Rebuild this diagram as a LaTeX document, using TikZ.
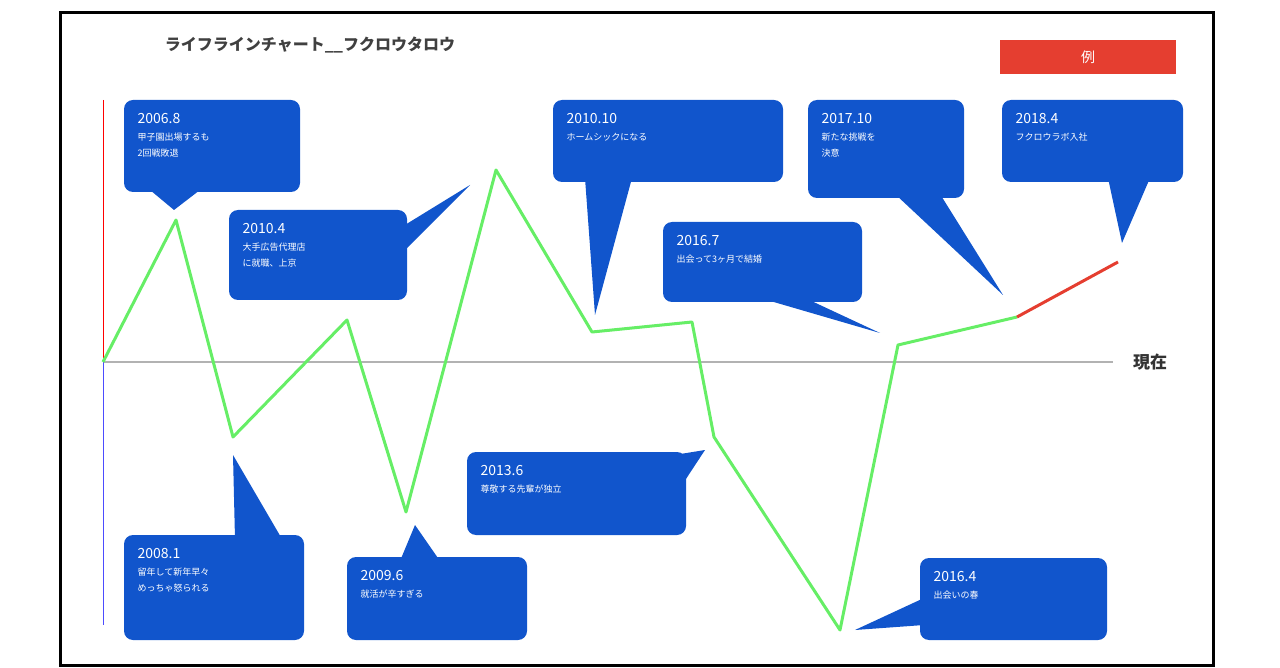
\documentclass[tikz,border=0pt]{standalone}
\usepackage{fontspec}
\setmainfont{Noto Sans CJK JP}
\begin{document}
\begin{tikzpicture}[x=1pt,y=-1pt,
  cbox/.style={fill=cb,rounded corners=9pt,text=white,align=left,anchor=north west,inner sep=0pt,font=\fontsize{14}{18}\selectfont},
  tail/.style={fill=cb}]
\definecolor{cb}{HTML}{1155CC}
\definecolor{lg}{HTML}{66EE66}
\definecolor{rd}{HTML}{E53E30}
\useasboundingbox (0,0) rectangle (1280,668);
\draw[line width=3pt] (60,13) rectangle (1213,665);
\node[font=\fontsize{16}{18}\selectfont\bfseries,text=black!75] (title) at (310,45) {ライフラインチャート\_\_フクロウタロウ};
\node[fill=rd,minimum width=176pt,minimum height=34pt,text=white,font=\fontsize{14}{16}\selectfont] (legend) at (1088,57) {例};
\draw[gray!60,line width=1.2pt] (103,362) coordinate (o) -- (1113,362) coordinate (ax);
\node[font=\fontsize{17}{18}\selectfont\bfseries,text=black!80] (now) at (1150,362) {現在};
\draw[red,line width=1pt] (103,100) coordinate (yt) -- (o);
\draw[blue!70,line width=1pt] (o) -- (103,625) coordinate (yb);
% callouts
\newcommand{\callout}[6]{% name, x1,y1,x2,y2,text
  \path[cbox] (#2,#3) rectangle (#4,#5);
  \node[text=white,align=left,anchor=north west,font=\fontsize{14}{19}\selectfont] (#1) at (#2+10,#3+10) {#6};}
\callout{c1}{124}{100}{300}{192}{2006.8\\[-2pt]{\small 甲子園出場するも}\\[-3pt]{\small 2回戦敗退}}
\fill[cb] (150,190) -- (200,190) -- (174,210) -- cycle;
\callout{c2}{229}{210}{407}{300}{2010.4\\[-2pt]{\small 大手広告代理店}\\[-3pt]{\small に就職、上京}}
\fill[cb] (400,228) -- (400,255) -- (470,185) -- cycle;
\callout{c3}{553}{100}{783}{182}{2010.10\\[-2pt]{\small ホームシックになる}}
\fill[cb] (585,178) -- (632,178) -- (595,315) -- cycle;
\callout{c4}{808}{100}{964}{198}{2017.10\\[-2pt]{\small 新たな挑戦を}\\[-3pt]{\small 決意}}
\fill[cb] (895,194) -- (940,194) -- (1003,295) -- cycle;
\callout{c5}{1002}{100}{1183}{182}{2018.4\\[-2pt]{\small フクロウラボ入社}}
\fill[cb] (1108,178) -- (1150,178) -- (1122,243) -- cycle;
\callout{c6}{663}{222}{862}{302}{2016.7\\[-2pt]{\small 出会って3ヶ月で結婚}}
\fill[cb] (760,298) -- (805,298) -- (880,333) -- cycle;
\callout{c7}{124}{535}{304}{640}{2008.1\\[-2pt]{\small 留年して新年早々}\\[-3pt]{\small めっちゃ怒られる}}
\fill[cb] (235,539) -- (282,539) -- (233,455) -- cycle;
\callout{c8}{347}{557}{527}{640}{2009.6\\[-2pt]{\small 就活が辛すぎる}}
\fill[cb] (400,561) -- (440,561) -- (415,525) -- cycle;
\callout{c9}{467}{452}{686}{535}{2013.6\\[-2pt]{\small 尊敬する先輩が独立}}
\fill[cb] (668,456) -- (682,485) -- (705,450) -- cycle;
\callout{c10}{920}{558}{1107}{640}{2016.4\\[-2pt]{\small 出会いの春}}
\fill[cb] (924,598) -- (924,625) -- (855,630) -- cycle;
% life line
\draw[lg,line width=3pt,line join=round] (o) -- (176,220) -- (233,437) -- (347,320) -- (406,512) -- (496,170) -- (592,332) -- (692,322) -- (714,437) -- (840,630) -- (898,345) -- (1017,317) coordinate (p);
\draw[rd,line width=3pt] (p) -- (1118,262);
\end{tikzpicture}
\end{document}
